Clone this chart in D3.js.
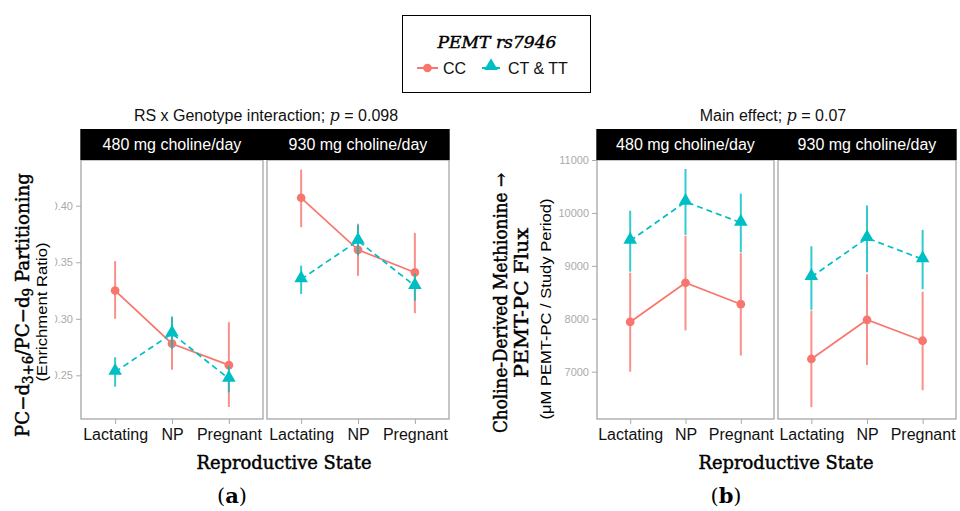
<!DOCTYPE html>
<html><head><meta charset="utf-8">
<script src="https://cdn.jsdelivr.net/npm/d3@7"></script>
<style>body{margin:0;background:#fff}svg{display:block}</style>
</head><body>
<svg id="c" width="960" height="511"></svg>
<script>
const states = ["Lactating", "NP", "Pregnant"];
const doses = ["480 mg choline/day", "930 mg choline/day"];
const genotypes = ["CC", "CT & TT"];
// Panel (a): enrichment ratio [dose][genotype][state]
const aMean = [[[0.325, 0.278, 0.259], [0.253, 0.287, 0.247]],
               [[0.407, 0.361, 0.341], [0.335, 0.369, 0.329]]];
const aLow  = [[[0.300, 0.255, 0.222], [0.240, 0.273, 0.235]],
               [[0.381, 0.338, 0.305], [0.322, 0.356, 0.316]]];
const aHigh = [[[0.351, 0.301, 0.297], [0.266, 0.302, 0.258]],
               [[0.432, 0.384, 0.376], [0.347, 0.383, 0.340]]];
// Panel (b): PEMT-PC flux
const bMean = [[[7940, 8680, 8275], [9475, 10210, 9815]],
               [[7240, 7980, 7585], [8790, 9525, 9125]]];
const bLow  = [[[7000, 7780, 7305], [8890, 9585, 9255]],
               [[6330, 7125, 6650], [8170, 8880, 8560]]];
const bHigh = [[[8870, 9570, 9240], [10040, 10830, 10365]],
               [[8155, 8840, 8510], [9370, 10140, 9680]]];
const aTicks = [0.25, 0.30, 0.35, 0.40];
const bTicks = [7000, 8000, 9000, 10000, 11000];

const colors = ["#F8766D", "#00BFC4"];
const svg = d3.select("#c");
const sans = "'Liberation Sans', Arial, sans-serif";
const serif = "'DejaVu Serif', serif";

svg.append("defs").append("clipPath").attr("id","clipA")
  .append("rect").attr("x",55).attr("y",0).attr("width",40).attr("height",511);

function heavy(sel) { return sel.attr("stroke", "#000").attr("stroke-width", 0.45); }

function panel(cfg) {
  const g = svg.append("g");
  const y = d3.scaleLinear().domain(cfg.ydom).range([419, 160]);
  const yg = cfg.clip ? g.append("g").attr("clip-path", "url(#clipA)") : g;
  const ya = yg.append("g").attr("transform", `translate(${cfg.facets[0][0]},0)`)
    .call(d3.axisLeft(y).tickValues(cfg.ticks).tickSize(5).tickPadding(3).tickFormat(cfg.fmt));
  ya.select(".domain").remove();
  ya.selectAll("line").attr("stroke", "#aaa");
  ya.selectAll("text").attr("fill", "#aaa").style("font-family", sans).style("font-size", "11px");
  cfg.facets.forEach((f, di) => {
    const x = d3.scalePoint().domain(states).range(f).padding(0.6);
    g.append("rect").attr("x", f[0]).attr("y", 160).attr("width", f[1]-f[0]).attr("height", 259)
      .attr("fill", "none").attr("stroke", "#a6a6a6").attr("stroke-width", 1.3);
    const mid = (cfg.facets[0][1] + cfg.facets[1][0]) / 2;
    const sx0 = di === 0 ? f[0] - 0.7 : mid;
    const sx1 = di === 0 ? mid : f[1] + 0.7;
    g.append("rect").attr("x", sx0).attr("y", 129).attr("width", sx1 - sx0).attr("height", 31).attr("fill", "#000");
    g.append("text").attr("x", (f[0]+f[1])/2).attr("y", 150).attr("text-anchor", "middle")
      .attr("fill", "#fff").style("font-family", sans).style("font-size", "16px").text(doses[di]);
    const xa = g.append("g").attr("transform", "translate(0,419)")
      .call(d3.axisBottom(x).tickSize(5).tickPadding(5));
    xa.select(".domain").remove();
    xa.selectAll("line").attr("stroke", "#aaa");
    xa.selectAll("text").attr("fill", "#111").style("font-family", sans).style("font-size", "16px");
    genotypes.forEach((gt, gi) => {
      const col = colors[gi];
      const pts = states.map((s, si) => ({s, m: cfg.mean[di][gi][si], lo: cfg.low[di][gi][si], hi: cfg.high[di][gi][si]}));
      g.selectAll(null).data(pts).enter().append("line")
        .attr("x1", d => x(d.s)).attr("x2", d => x(d.s))
        .attr("y1", d => y(d.lo)).attr("y2", d => y(d.hi))
        .attr("stroke", col).attr("stroke-width", 2).attr("opacity", 0.8);
      g.append("path").datum(pts)
        .attr("d", d3.line().x(d => x(d.s)).y(d => y(d.m)))
        .attr("fill", "none").attr("stroke", col).attr("stroke-width", 1.7)
        .attr("stroke-dasharray", gi === 1 ? "6,4" : null);
      const sym = d3.symbol().type(gi === 0 ? d3.symbolCircle : d3.symbolTriangle).size(gi === 0 ? 60 : 80);
      g.selectAll(null).data(pts).enter().append("path")
        .attr("d", sym).attr("transform", d => `translate(${x(d.s)},${y(d.m) + (gi===1 ? -1 : 0)})`)
        .attr("fill", col);
    });
  });
  const t = g.append("text").attr("x", cfg.titleX).attr("y", 121).attr("text-anchor", "middle")
    .style("font-family", sans).style("font-size", "16px").attr("fill", "#111");
  t.append("tspan").text(cfg.title[0]);
  t.append("tspan").style("font-family", serif).style("font-style", "italic").text("p");
  t.append("tspan").text(cfg.title[1]);
  g.append("text").attr("x", cfg.xtitleX).attr("y", 469).attr("text-anchor", "middle")
    .style("font-family", serif).style("font-size", "18px")
    .attr("textLength", 175).attr("lengthAdjust", "spacingAndGlyphs")
    .attr("fill", "#000").call(heavy).text("Reproductive State");
  g.append("text").attr("x", cfg.labelX).attr("y", 503).attr("text-anchor", "middle")
    .style("font-family", serif).style("font-size", "21px").attr("fill", "#000")
    .call(s => { s.append("tspan").text("("); s.append("tspan").style("font-weight","bold").text(cfg.label); s.append("tspan").text(")"); });
}

panel({ facets: [[81, 263], [267, 449]], ydom: [0.2114, 0.4404], ticks: aTicks, fmt: d3.format(".2f"),
  mean: aMean, low: aLow, high: aHigh, clip: true,
  title: ["RS x Genotype interaction; ", " = 0.098"], titleX: 266, xtitleX: 284, labelX: 232, label: "a" });
panel({ facets: [[597, 774], [778, 956]], ydom: [6106, 11000], ticks: bTicks, fmt: d3.format("d"),
  mean: bMean, low: bLow, high: bHigh, clip: false,
  title: ["Main effect; ", " = 0.07"], titleX: 773, xtitleX: 786, labelX: 726, label: "b" });

function vtext(x, cy, len, size, fam, bold, build) {
  const t = svg.append("text").attr("transform", `translate(${x},${cy}) rotate(-90)`)
    .attr("text-anchor", "middle").style("font-family", fam).style("font-size", size + "px").attr("fill", "#000");
  if (bold) heavy(t);
  if (len) t.attr("textLength", len).attr("lengthAdjust", "spacingAndGlyphs");
  build(t);
}
vtext(29, 305, 264, 19, serif, true, t => {
  t.append("tspan").text("PC\u2212d");
  t.append("tspan").attr("baseline-shift", "-30%").style("font-size", "14px").text("3+6");
  t.append("tspan").text("/PC\u2212d");
  t.append("tspan").attr("baseline-shift", "-30%").style("font-size", "14px").text("9");
  t.append("tspan").text(" Partitioning");
});
vtext(47, 312, 139, 15, sans, false, t => t.text("(Enrichment Ratio)"));
vtext(507, 303, 260, 18, serif, true, t => t.text("Choline-Derived Methionine \u2192"));
vtext(528, 303, 150, 18, serif, true, t => t.text("PEMT-PC Flux"));
vtext(551, 309, 221, 15, sans, false, t => t.text("(\u03BCM PEMT-PC / Study Period)"));

const lg = svg.append("g");
lg.append("rect").attr("x", 402.5).attr("y", 15.5).attr("width", 188).attr("height", 77)
  .attr("fill", "#fff").attr("stroke", "#000").attr("stroke-width", 1);
lg.append("text").attr("x", 497).attr("y", 48).attr("text-anchor", "middle")
  .style("font-family", serif).style("font-style", "italic").style("font-size", "17px")
  .attr("textLength", 119).attr("lengthAdjust", "spacingAndGlyphs").call(heavy).text("PEMT rs7946");
const items = [{x0: 417, x1: 438, tx: 443}, {x0: 482, x1: 500, tx: 508}];
genotypes.forEach((gt, gi) => {
  const it = items[gi];
  lg.append("line").attr("x1", it.x0).attr("x2", it.x1).attr("y1", 68).attr("y2", 68)
    .attr("stroke", colors[gi]).attr("stroke-width", 2);
  lg.append("path").attr("d", d3.symbol().type(gi === 0 ? d3.symbolCircle : d3.symbolTriangle).size(gi === 0 ? 60 : 80))
    .attr("transform", `translate(${(it.x0+it.x1)/2},${gi===1?66:68})`).attr("fill", colors[gi]);
  lg.append("text").attr("x", it.tx).attr("y", 74).style("font-family", sans).style("font-size", "16px")
    .attr("fill", "#111").text(gt);
});
</script>
</body></html>
